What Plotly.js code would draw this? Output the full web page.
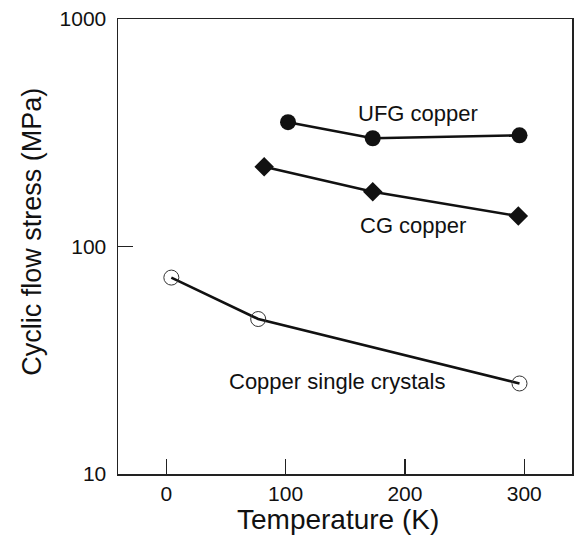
<!DOCTYPE html>
<html>
<head>
<meta charset="utf-8">
<script src="https://cdn.plot.ly/plotly-3.0.1.min.js"></script>
<style>
  html, body { margin: 0; padding: 0; background: #fff; }
  #chart { width: 577px; height: 540px; }
</style>
</head>
<body>
<div id="chart"></div>
<script>
// Cyclic flow stress of copper versus test temperature
const ufgTemp = [102, 173, 296];
const ufgStress = [352, 299, 308];

const cgTemp = [82, 173, 295];
const cgStress = [224, 174, 136];

const crystalTemp = [4.2, 77, 296];
const crystalStress = [73, 48, 25];

const xTicks = [0, 100, 200, 300];
const yTicks = [10, 100, 1000];

const seriesLabels = ['UFG copper', 'CG copper', 'Copper single crystals'];
// label anchor points (temperature, stress)
const labelTemp = [211, 207, 143];
const labelStress = [386, 124, 25.4];

const xTitle = 'Temperature (K)';
const yTitle = 'Cyclic flow stress (MPa)';

const fontFamily = '"Liberation Sans", Arial, Helvetica, sans-serif';
const ink = '#111';

const traces = [
  {
    x: crystalTemp, y: crystalStress, type: 'scatter', mode: 'lines+markers',
    line: { color: ink, width: 2.6 },
    marker: { symbol: 'circle-open', size: 15, color: '#333', line: { width: 1, color: '#333' } }
  },
  {
    x: cgTemp, y: cgStress, type: 'scatter', mode: 'lines+markers',
    line: { color: ink, width: 2.6 },
    marker: { symbol: 'diamond', size: 15, color: ink }
  },
  {
    x: ufgTemp, y: ufgStress, type: 'scatter', mode: 'lines+markers',
    line: { color: ink, width: 2.6 },
    marker: { symbol: 'circle', size: 16, color: ink }
  }
];

const annotations = seriesLabels.map((t, i) => ({
  x: labelTemp[i], y: Math.log10(labelStress[i]), xref: 'x', yref: 'y',
  text: t, showarrow: false, xanchor: 'center', yanchor: 'middle',
  font: { family: fontFamily, size: 22, color: ink }
}));

// axis titles, placed as paper-anchored text
annotations.push({
  x: 0.4846, y: -0.101, xref: 'paper', yref: 'paper',
  text: xTitle, showarrow: false, xanchor: 'center', yanchor: 'middle',
  font: { family: fontFamily, size: 28, color: ink }
});
annotations.push({
  x: -0.189, y: 0.533, xref: 'paper', yref: 'paper',
  text: yTitle, showarrow: false, textangle: -90, xanchor: 'center', yanchor: 'middle',
  font: { family: fontFamily, size: 27, color: ink }
});

const layout = {
  width: 577, height: 540,
  margin: { l: 118, r: 5, t: 19, b: 66 },
  paper_bgcolor: '#fff', plot_bgcolor: '#fff',
  showlegend: false,
  font: { family: fontFamily, color: ink },
  xaxis: {
    range: [-40.5, 340],
    tickvals: xTicks, ticktext: xTicks.map(String),
    ticks: 'inside', ticklen: 15, tickwidth: 1.5, tickcolor: '#222',
    showline: true, linecolor: '#222', linewidth: 1.5, mirror: true,
    showgrid: false, zeroline: false,
    tickfont: { family: fontFamily, size: 21, color: ink }
  },
  yaxis: {
    type: 'log', range: [1, 3],
    tickvals: yTicks, ticktext: yTicks.map(String),
    ticks: 'inside', ticklen: 15, tickwidth: 1.5, tickcolor: '#222',
    showline: true, linecolor: '#222', linewidth: 1.5, mirror: true,
    showgrid: false, zeroline: false,
    ticklabelstandoff: 6,
    tickfont: { family: fontFamily, size: 21, color: ink }
  },
  annotations: annotations
};

Plotly.newPlot('chart', traces, layout, { displayModeBar: false, staticPlot: true });
</script>
</body>
</html>
